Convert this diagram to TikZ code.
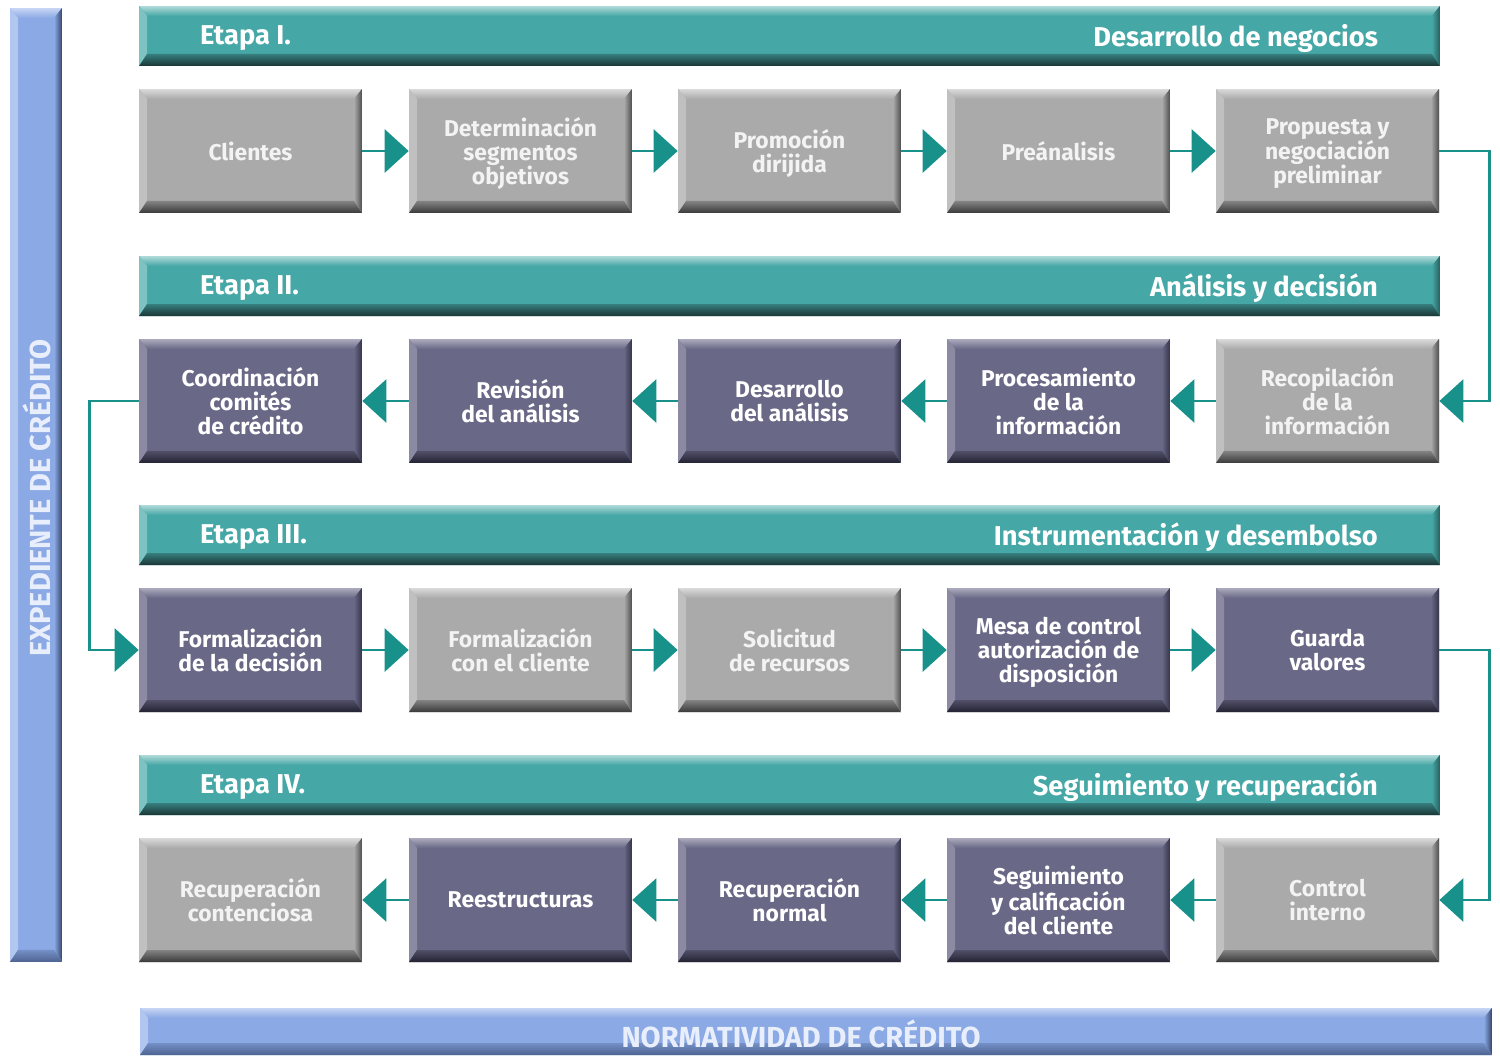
\documentclass[tikz,border=0pt]{standalone}
\usepackage{fontspec}
\setmainfont{Fira Sans}
\usetikzlibrary{arrows.meta,positioning}

\definecolor{grisbase}{HTML}{AAAAAA}
\definecolor{gristop}{HTML}{DADADA}
\definecolor{grisleft}{HTML}{C0C0C0}
\definecolor{grisright}{HTML}{4E4E4E}
\definecolor{grisbottom}{HTML}{3A3A3A}
\definecolor{moradobase}{HTML}{696886}
\definecolor{moradotop}{HTML}{ABAABD}
\definecolor{moradoleft}{HTML}{8B8AA2}
\definecolor{moradoright}{HTML}{34344A}
\definecolor{moradobottom}{HTML}{232231}
\definecolor{verdebase}{HTML}{45A7A6}
\definecolor{verdetop}{HTML}{B0DAD9}
\definecolor{verdeleft}{HTML}{7EC3C1}
\definecolor{verderight}{HTML}{275F5E}
\definecolor{verdebottom}{HTML}{1B3535}
\definecolor{azulbase}{HTML}{8AA9E5}
\definecolor{azultop}{HTML}{C6D5F3}
\definecolor{azulleft}{HTML}{B2C7EF}
\definecolor{azulright}{HTML}{36466A}
\definecolor{azulbottom}{HTML}{4D6290}
\definecolor{flechaverde}{HTML}{17918A}
\definecolor{textoazul}{HTML}{E8EEFB}
\definecolor{textogris}{HTML}{F3F3F3}

\tikzset{
  bevel/.style={fill=#1base, path picture={
      \coordinate (bnw) at (path picture bounding box.north west);
      \coordinate (bne) at (path picture bounding box.north east);
      \coordinate (bsw) at (path picture bounding box.south west);
      \coordinate (bse) at (path picture bounding box.south east);
      \fill[top color=#1top, bottom color=#1base] (bnw) -- (bne) -- ([shift={(-0.16cm,-0.2cm)}]bne) -- ([shift={(0.16cm,-0.2cm)}]bnw) -- cycle;
      \fill[#1left] (bnw) -- ([shift={(0.16cm,-0.2cm)}]bnw) -- ([shift={(0.16cm,0.24cm)}]bsw) -- (bsw) -- cycle;
      \fill[left color=#1base, right color=#1right] (bne) -- (bse) -- ([shift={(-0.16cm,0.24cm)}]bse) -- ([shift={(-0.16cm,-0.2cm)}]bne) -- cycle;
      \fill[top color=#1base!65!#1bottom, bottom color=#1bottom] (bsw) -- (bse) -- ([shift={(-0.16cm,0.24cm)}]bse) -- ([shift={(0.16cm,0.24cm)}]bsw) -- cycle;
    }},
  caja/.style={minimum width=4.46cm, minimum height=2.48cm, inner sep=0pt, align=center,
    text depth=0pt, font=\bfseries\fontsize{13}{13.6}\selectfont},
  gris/.style={caja, bevel=gris, text=textogris},
  morado/.style={caja, bevel=morado, text=white},
  etapa/.style={bevel=verde, minimum width=26.02cm, minimum height=1.2cm, inner sep=0pt},
  titulo/.style={text=white, inner sep=0pt, font=\bfseries\fontsize{15.5}{18}\selectfont},
  flecha/.style={draw=flechaverde, line width=1.6pt, -{Triangle[length=0.48cm,width=0.86cm]}}
}

\begin{document}
\begin{tikzpicture}[x=0.02cm,y=-0.02cm]
  \useasboundingbox (0,0) rectangle (1500,1055);

  % side bars
  \node[bevel=azul, minimum width=1.04cm, minimum height=19.08cm, inner sep=0pt] (expediente) at (36,485) {};
  \node[rotate=90, text=textoazul, font=\bfseries\fontsize{16.5}{18}\selectfont] (expedientetxt) at (37,498) {EXPEDIENTE DE CRÉDITO};
  \node[bevel=azul, minimum width=27.04cm, minimum height=0.94cm, inner sep=0pt] (normatividad) at (816,1031.5) {};
  \node[text=textoazul, font=\bfseries\fontsize{16.5}{18}\selectfont] (normatividadtxt) at (801,1034) {NORMATIVIDAD DE CRÉDITO};

  % stage bars
  \node[etapa] (etapa1) at (789.5,36) {};
  \node[titulo, anchor=west] at ([shift={(1.22cm,-0.05cm)}]etapa1.west) {Etapa I.};
  \node[titulo, anchor=east] at ([shift={(-1.24cm,-0.05cm)}]etapa1.east) {Desarrollo de negocios};
  \node[etapa] (etapa2) at (789.5,286) {};
  \node[titulo, anchor=west] at ([shift={(1.22cm,-0.05cm)}]etapa2.west) {Etapa II.};
  \node[titulo, anchor=east] at ([shift={(-1.24cm,-0.05cm)}]etapa2.east) {Análisis y decisión};
  \node[etapa] (etapa3) at (789.5,535) {};
  \node[titulo, anchor=west] at ([shift={(1.22cm,-0.05cm)}]etapa3.west) {Etapa III.};
  \node[titulo, anchor=east] at ([shift={(-1.24cm,-0.05cm)}]etapa3.east) {Instrumentación y desembolso};
  \node[etapa] (etapa4) at (789.5,785) {};
  \node[titulo, anchor=west] at ([shift={(1.22cm,-0.05cm)}]etapa4.west) {Etapa IV.};
  \node[titulo, anchor=east] at ([shift={(-1.24cm,-0.05cm)}]etapa4.east) {Seguimiento y recuperación};

  % stage I
  \node[gris] (clientes) at (250.5,151) {Clientes};
  \node[gris] (segmentos) at (520.5,151) {Determinación\\segmentos\\objetivos};
  \node[gris] (promocion) at (789.5,151) {Promoción\\dirijida};
  \node[gris] (preanalisis) at (1058.5,151) {Preánalisis};
  \node[gris] (propuesta) at (1327.5,151) {Propuesta y\\negociación\\preliminar};

  % stage II
  \node[morado] (coordinacion) at (250.5,401) {Coordinación\\comités\\de crédito};
  \node[morado] (revision) at (520.5,401) {Revisión\\del análisis};
  \node[morado] (desarrollo) at (789.5,401) {Desarrollo\\del análisis};
  \node[morado] (procesamiento) at (1058.5,401) {Procesamiento\\de la\\información};
  \node[gris] (recopilacion) at (1327.5,401) {Recopilación\\de la\\información};

  % stage III
  \node[morado] (formdecision) at (250.5,650) {Formalización\\de la decisión};
  \node[gris] (formcliente) at (520.5,650) {Formalización\\con el cliente};
  \node[gris] (solicitud) at (789.5,650) {Solicitud\\de recursos};
  \node[morado] (mesa) at (1058.5,650) {Mesa de control\\autorización de\\disposición};
  \node[morado] (guarda) at (1327.5,650) {Guarda\\valores};

  % stage IV
  \node[gris] (contenciosa) at (250.5,900) {Recuperación\\contenciosa};
  \node[morado] (reestructuras) at (520.5,900) {Reestructuras};
  \node[morado] (normal) at (789.5,900) {Recuperación\\normal};
  \node[morado] (seguimiento) at (1058.5,900) {Seguimiento\\y calificación\\del cliente};
  \node[gris] (control) at (1327.5,900) {Control\\interno};

  % flow
  \draw[flecha] (clientes) -- (segmentos);
  \draw[flecha] (segmentos) -- (promocion);
  \draw[flecha] (promocion) -- (preanalisis);
  \draw[flecha] (preanalisis) -- (propuesta);
  \draw[flecha] (propuesta.east) -- ++(50,0) |- (recopilacion.east);
  \draw[flecha] (recopilacion) -- (procesamiento);
  \draw[flecha] (procesamiento) -- (desarrollo);
  \draw[flecha] (desarrollo) -- (revision);
  \draw[flecha] (revision) -- (coordinacion);
  \draw[flecha] (coordinacion.west) -- ++(-49,0) |- (formdecision.west);
  \draw[flecha] (formdecision) -- (formcliente);
  \draw[flecha] (formcliente) -- (solicitud);
  \draw[flecha] (solicitud) -- (mesa);
  \draw[flecha] (mesa) -- (guarda);
  \draw[flecha] (guarda.east) -- ++(50,0) |- (control.east);
  \draw[flecha] (control) -- (seguimiento);
  \draw[flecha] (seguimiento) -- (normal);
  \draw[flecha] (normal) -- (reestructuras);
  \draw[flecha] (reestructuras) -- (contenciosa);
\end{tikzpicture}
\end{document}
